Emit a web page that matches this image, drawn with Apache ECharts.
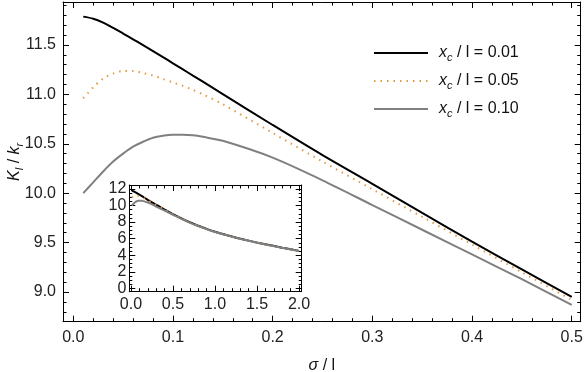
<!DOCTYPE html>
<html>
<head>
<meta charset="utf-8">
<script src="https://cdn.jsdelivr.net/npm/echarts@6/dist/echarts.min.js"></script>
<style>
  html, body { margin: 0; padding: 0; background: #fff; }
  #chart { width: 585px; height: 372px; }
</style>
</head>
<body>
<div id="chart"></div>
<script>
// sigma / l values (main panel)
const sigma = [0.01, 0.02, 0.03, 0.04, 0.05, 0.06, 0.07, 0.08, 0.09, 0.10, 0.11, 0.12, 0.13, 0.15, 0.2, 0.25, 0.3, 0.35, 0.4, 0.45, 0.5]
const kBlack = [11.786, 11.765, 11.725, 11.672, 11.615, 11.557, 11.498, 11.438, 11.376, 11.314, 11.252, 11.19, 11.128, 11.003, 10.69, 10.385, 10.095, 9.80, 9.51, 9.23, 8.95]
const kOrange = [10.96, 11.07, 11.16, 11.21, 11.235, 11.235, 11.215, 11.19, 11.155, 11.12, 11.085, 11.045, 11.0, 10.90, 10.61, 10.32, 10.04, 9.76, 9.48, 9.20, 8.92]
const kGray = [10.00, 10.11, 10.22, 10.32, 10.40, 10.47, 10.52, 10.56, 10.58, 10.59, 10.59, 10.585, 10.57, 10.53, 10.36, 10.13, 9.88, 9.63, 9.38, 9.13, 8.87]

// extra range shown only in the inset
const sigmaTail = [0.6, 0.7, 0.8, 0.9, 1.0, 1.2, 1.4, 1.6, 1.8, 2.0]
const blackTail = [8.45, 7.98, 7.56, 7.18, 6.84, 6.26, 5.76, 5.31, 4.91, 4.52]
const orangeTail = [8.43, 7.97, 7.55, 7.17, 6.83, 6.25, 5.75, 5.30, 4.90, 4.51]
const grayTail = [8.39, 7.93, 7.52, 7.15, 6.81, 6.24, 5.74, 5.29, 4.89, 4.50]

const names = ['0.01', '0.05', '0.10']

const FONT = 'Liberation Sans, Arial, sans-serif'
const pairs = (xs, ys) => xs.map((x, i) => [x, ys[i]])

const frameAxis = (extra) => Object.assign({
  type: 'value',
  axisLine: { show: true, onZero: false, lineStyle: { color: '#000', width: 1 } },
  axisTick: { show: true, inside: true, length: 6, lineStyle: { color: '#000' } },
  minorTick: { show: true, splitNumber: 5, length: 3.5, lineStyle: { color: '#000' } },
  splitLine: { show: false },
  axisLabel: { show: false }
}, extra)

const tickLabel = (fmt, margin) => ({
  show: true, color: '#222', fontSize: 16, fontFamily: FONT, margin: margin,
  showMinLabel: false, showMaxLabel: false, formatter: fmt
})

const rich = {
  i: { fontStyle: 'italic', fontSize: 16, fontFamily: FONT, color: '#111', lineHeight: 20 },
  n: { fontSize: 16, fontFamily: FONT, color: '#111', lineHeight: 20 },
  s: { fontStyle: 'italic', fontSize: 11, fontFamily: FONT, color: '#111', lineHeight: 12, verticalAlign: 'bottom' }
}

const mainX = { min: -0.0103, max: 0.509, minInterval: 0.1, maxInterval: 0.1 }
const mainY = { min: 8.70, max: 11.934, minInterval: 0.5, maxInterval: 0.5 }
const inX = { min: -0.02, max: 2.032, minInterval: 0.5, maxInterval: 0.5 }
const inY = { min: -0.41, max: 12.48, minInterval: 2, maxInterval: 2 }

const chart = echarts.init(document.getElementById('chart'))

const styles = [
  { color: '#000', width: 2, type: 'solid' },
  { color: '#e49a45', width: 2, type: [1.5, 5] },
  { color: '#808080', width: 2, type: 'solid' }
]
const mainData = [kBlack, kOrange, kGray]
const tailData = [blackTail, orangeTail, grayTail]

const series = []
names.forEach((n, i) => {
  series.push({
    name: n, type: 'line', xAxisIndex: 0, yAxisIndex: 0,
    data: pairs(sigma, mainData[i]), showSymbol: false, symbol: 'none',
    smooth: 0.3,
    lineStyle: styles[i], itemStyle: { color: styles[i].color }, z: 3
  })
})
names.forEach((n, i) => {
  series.push({
    name: 'inset ' + n, type: 'line', xAxisIndex: 2, yAxisIndex: 2,
    data: pairs(sigma.concat(sigmaTail), mainData[i].concat(tailData[i])),
    showSymbol: false, symbol: 'none', smooth: 0.3,
    lineStyle: Object.assign({}, styles[i], { width: 2 }), z: 12
  })
})

const option = {
  animation: false,
  backgroundColor: '#fff',
  grid: [
    { left: 63, top: 2, right: 4.3, bottom: 50.3, show: false, outerBoundsMode: 'none' },
    { left: 129.3, top: 185, right: 283.3, bottom: 80.3, show: true, backgroundColor: '#fff', borderWidth: 0, z: 10, outerBoundsMode: 'none' }
  ],
  legend: {
    orient: 'vertical', left: 368, top: 40,
    data: names, itemWidth: 54, itemHeight: 20, itemGap: 10,
    itemStyle: { color: 'transparent', borderWidth: 0, opacity: 0 },
    formatter: (n) => '{i|x}{s|c}{n| / l = ' + n + '}',
    textStyle: { rich: rich, padding: [0, 0, 0, 6] }
  },
  xAxis: [
    frameAxis(Object.assign({
      gridIndex: 0, position: 'bottom',
      axisLabel: tickLabel(v => v.toFixed(1), 8),
      name: '{i|σ}{n| / l}', nameLocation: 'middle', nameGap: 34, nameMoveOverlap: false,
      nameTextStyle: { rich: rich }
    }, mainX)),
    frameAxis(Object.assign({ gridIndex: 0, position: 'top' }, mainX)),
    frameAxis(Object.assign({
      gridIndex: 1, position: 'bottom', z: 11,
      axisLabel: tickLabel(v => v.toFixed(1), 5)
    }, inX)),
    frameAxis(Object.assign({ gridIndex: 1, position: 'top', z: 11 }, inX))
  ],
  yAxis: [
    frameAxis(Object.assign({
      gridIndex: 0, position: 'left',
      axisLabel: tickLabel(v => v.toFixed(1), 7),
      name: '{i|K}{s|l}{n| / }{i|k}{s|r}', nameLocation: 'middle', nameGap: 38, nameRotate: 90,
      nameMoveOverlap: false,
      nameTextStyle: { rich: rich }
    }, mainY)),
    frameAxis(Object.assign({ gridIndex: 0, position: 'right' }, mainY)),
    frameAxis(Object.assign({
      gridIndex: 1, position: 'left', z: 11,
      minorTick: { show: true, splitNumber: 4, length: 3, lineStyle: { color: '#000' } },
      axisLabel: tickLabel(v => String(Math.round(v)), 3)
    }, inY)),
    frameAxis(Object.assign({
      gridIndex: 1, position: 'right', z: 11,
      minorTick: { show: true, splitNumber: 4, length: 3, lineStyle: { color: '#000' } }
    }, inY))
  ],
  series: series
}

chart.setOption(option)
</script>
</body>
</html>
